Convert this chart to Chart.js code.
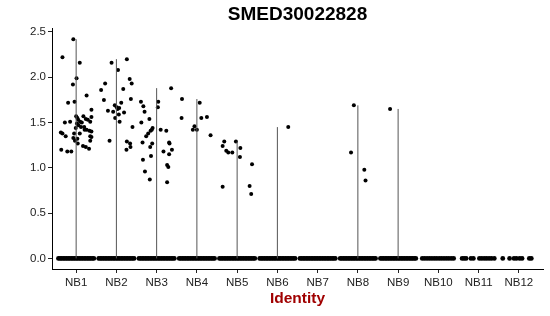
<!DOCTYPE html>
<html>
<head>
<meta charset="utf-8">
<script src="https://cdn.jsdelivr.net/npm/chart.js@4.4.0/dist/chart.umd.min.js"></script>
<style>
  html, body { margin: 0; padding: 0; background: #fff; }
</style>
</head>
<body>
<canvas id="vlnChart" width="550" height="316"></canvas>
<script>
// groups on the x axis
const groups = ["NB1", "NB2", "NB3", "NB4", "NB5", "NB6", "NB7", "NB8", "NB9", "NB10", "NB11", "NB12"];
const yTicks = [0, 0.5, 1, 1.5, 2, 2.5];

// top of each (very thin) violin, null where the group has no expression
const violinMax = [2.42, 2.20, 1.88, 1.76, 1.29, 1.45, null, 1.69, 1.65, null, null, null];

// non-zero expression values per group
const exprValues = [
    [2.22, 2.42, 2.16, 1.99, 1.92, 1.73, 1.72, 1.80, 1.64, 1.39, 1.38, 1.35, 1.50, 1.51, 1.20, 1.18, 1.18, 1.33, 1.30, 1.32,
     1.27, 1.38, 1.44, 1.47, 1.53, 1.51, 1.50, 1.45, 1.45, 1.57, 1.54, 1.53, 1.51, 1.56, 1.42, 1.42, 1.41, 1.40, 1.35, 1.34,
     1.30, 1.24, 1.23, 1.21, 1.57, 1.55, 1.38, 1.49],
    [1.86, 1.93, 1.75, 2.16, 2.08, 2.20, 1.98, 1.93, 1.87, 1.72, 1.61, 1.76, 1.63, 1.62, 1.69, 1.67, 1.65, 1.66, 1.55, 1.51,
     1.59, 1.30, 1.45, 1.29, 1.27, 1.20, 1.23],
    [1.73, 1.68, 1.62, 1.50, 1.54, 1.73, 1.67, 1.88, 1.42, 1.41, 1.35, 1.38, 1.41, 1.44, 1.42, 1.28, 1.27, 1.23, 1.28, 1.27,
     1.18, 1.20, 1.15, 1.13, 1.09, 1.03, 1.01, 0.96, 0.87, 0.84],
    [1.76, 1.55, 1.72, 1.42, 1.46, 1.42, 1.55, 1.56, 1.36],
    [1.24, 1.29, 1.19, 1.17, 1.17, 1.29, 1.22, 1.12, 1.04, 0.79, 0.80, 0.71],
    [1.45],
    [],
    [1.69, 1.17, 0.98, 0.86],
    [1.65],
    [],
    [],
    []
];

// horizontal jitter of those points (in category units)
const jitterOffsets = [
    [-0.34, -0.07, 0.09, 0.01, -0.08, -0.04, -0.20, 0.26, 0.38, -0.38, -0.34, -0.26, -0.28, -0.15, -0.37, -0.22, -0.12, -0.07, -0.03, 0.03,
     0.04, -0.05, -0.01, 0.06, 0.05, 0.10, 0.14, 0.12, 0.20, 0.18, 0.24, 0.29, 0.35, 0.38, 0.21, 0.26, 0.33, 0.38, 0.35, 0.38,
     0.35, 0.17, 0.24, 0.32, 0.00, 0.03, 0.09, 0.02],
    [-0.38, -0.28, -0.31, -0.12, 0.04, 0.26, 0.33, 0.38, 0.17, 0.12, 0.19, 0.36, -0.21, -0.08, -0.04, 0.01, 0.03, 0.07, -0.03, 0.08,
     0.06, -0.17, 0.40, 0.26, 0.34, 0.25, 0.35],
    [-0.39, -0.33, -0.30, -0.38, -0.18, 0.04, 0.03, 0.36, 0.10, 0.24, -0.26, -0.21, -0.15, -0.10, -0.12, -0.35, -0.11, -0.16, 0.31, 0.32,
     0.17, 0.38, 0.31, -0.14, -0.34, 0.26, 0.29, -0.29, -0.17, 0.26],
    [-0.37, -0.38, 0.07, -0.10, -0.06, 0.00, 0.11, 0.25, 0.34],
    [-0.36, -0.32, -0.27, -0.22, -0.12, -0.03, 0.08, 0.07, 0.37, -0.36, 0.31, 0.35],
    [0.27],
    [],
    [-0.10, -0.17, 0.16, 0.19],
    [-0.20],
    [],
    [],
    []
];

// jitter of the zero-valued cells that form the band along y = 0
const zeroBandFull = [-0.44, -0.40, -0.36, -0.32, -0.28, -0.24, -0.20, -0.16, -0.12, -0.08, -0.04, 0.00,
                      0.04, 0.08, 0.12, 0.16, 0.20, 0.24, 0.28, 0.32, 0.36, 0.40, 0.44];
const zeroBands = [
    zeroBandFull, zeroBandFull, zeroBandFull, zeroBandFull, zeroBandFull, zeroBandFull, zeroBandFull, zeroBandFull, zeroBandFull,
    [-0.40, -0.34, -0.28, -0.22, -0.16, -0.10, -0.04, 0.02, 0.08, 0.14, 0.20, 0.26, 0.32, 0.38],
    [-0.41, -0.36, -0.31, -0.19, -0.13, 0.02, 0.08, 0.14, 0.20, 0.26, 0.32, 0.39],
    [-0.40, -0.23, -0.12, -0.06, 0.02, 0.08, 0.26, 0.31]
];

Chart.defaults.font.family = "'Liberation Sans', Arial, sans-serif";

const datasets = [];

// violins: with nearly all cells at zero they collapse to a vertical line
groups.forEach((g, i) => {
    if (violinMax[i] === null) return;
    datasets.push({
        type: "line",
        data: [{ x: i + 1, y: 0 }, { x: i + 1, y: violinMax[i] }],
        borderColor: "#555",
        borderWidth: 1,
        pointRadius: 0,
        fill: false
    });
});

const zeroCells = [];
const exprCells = [];
groups.forEach((g, i) => {
    zeroBands[i].forEach(dx => zeroCells.push({ x: i + 1 + dx, y: 0 }));
    exprValues[i].forEach((v, k) => exprCells.push({ x: i + 1 + jitterOffsets[i][k], y: v }));
});
datasets.push({
    type: "scatter",
    data: zeroCells,
    backgroundColor: "#000",
    borderWidth: 0,
    pointRadius: 2.4
});
datasets.push({
    type: "scatter",
    data: exprCells,
    backgroundColor: "#000",
    borderWidth: 0,
    pointRadius: 2
});

new Chart(document.getElementById("vlnChart"), {
    type: "scatter",
    data: { datasets },
    options: {
        responsive: false,
        animation: false,
        layout: { padding: { left: 0, right: 7, top: 0, bottom: 0 } },
        plugins: {
            legend: { display: false },
            tooltip: { enabled: false },
            title: {
                display: true,
                text: "SMED30022828",
                fullSize: false,
                color: "#000",
                font: { size: 19, weight: "bold" },
                padding: { top: 3, bottom: 2.2 }
            }
        },
        scales: {
            x: {
                type: "linear",
                min: 0.4,
                max: 12.6,
                afterBuildTicks: s => { s.ticks = groups.map((g, i) => ({ value: i + 1 })); },
                afterFit: s => { s.height = 47; },
                ticks: {
                    autoSkip: false,
                    maxRotation: 0,
                    padding: 3,
                    color: "#222",
                    font: { size: 11.5 },
                    callback: (v) => groups[Math.round(v) - 1]
                },
                grid: { drawOnChartArea: false, tickLength: 4, color: "#222" },
                border: { color: "#000", width: 1 },
                title: {
                    display: true,
                    text: "Identity",
                    color: "#a00000",
                    font: { size: 15.5, weight: "bold" },
                    padding: { top: 0, bottom: 8 }
                }
            },
            y: {
                min: -0.117,
                max: 2.544,
                afterBuildTicks: s => { s.ticks = yTicks.map(v => ({ value: v })); },
                afterFit: s => { s.width = 52; },
                ticks: {
                    padding: 2,
                    color: "#222",
                    font: { size: 11.5 },
                    callback: v => v.toFixed(1)
                },
                grid: { drawOnChartArea: false, tickLength: 4, color: "#222" },
                border: { color: "#000", width: 1 }
            }
        }
    }
});
</script>
</body>
</html>
